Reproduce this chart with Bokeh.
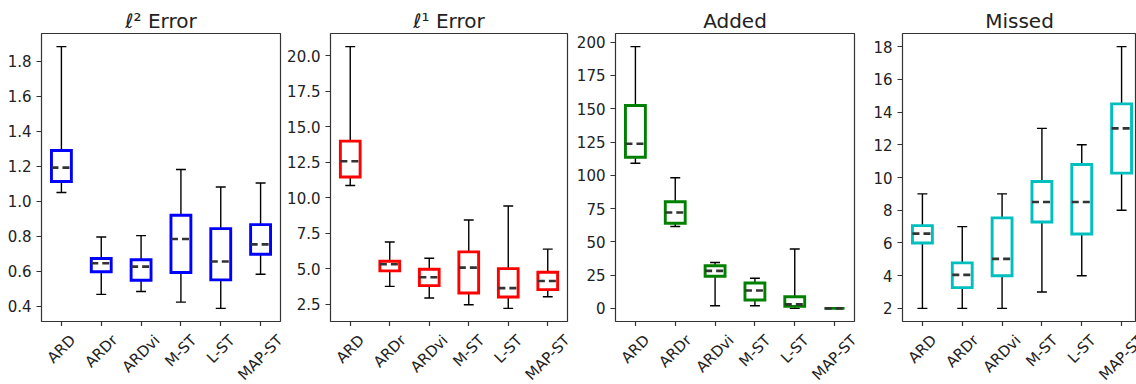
import numpy as np
from math import pi
from bokeh.plotting import figure
from bokeh.models import (Range1d, SingleIntervalTicker, FixedTicker, NumeralTickFormatter,
                          ColumnDataSource)
from bokeh.core.properties import value
from bokeh.layouts import row, column
from bokeh.embed import file_html
from bokeh.resources import INLINE

categories = ["ARD", "ARDr", "ARDvi", "M-ST", "L-ST", "MAP-ST"]

l2_lower = [1.050, 0.467, 0.484, 0.423, 0.387, 0.582]
l2_q1 = [1.113, 0.597, 0.548, 0.592, 0.550, 0.697]
l2_median = [1.192, 0.645, 0.626, 0.784, 0.655, 0.753]
l2_q3 = [1.290, 0.672, 0.665, 0.920, 0.843, 0.866]
l2_upper = [1.884, 0.795, 0.803, 1.181, 1.081, 1.104]

l1_lower = [10.87, 3.77, 2.95, 2.48, 2.22, 3.04]
l1_q1 = [11.46, 4.86, 3.82, 3.30, 3.02, 3.54]
l1_median = [12.57, 5.33, 4.41, 5.09, 3.65, 4.15]
l1_q3 = [13.99, 5.54, 4.97, 6.20, 5.02, 4.76]
l1_upper = [20.64, 6.89, 5.75, 8.44, 9.43, 6.39]

added_lower = [109.1, 61.5, 2.0, 2.0, 0.0, 0.0]
added_q1 = [113.6, 64.0, 24.2, 6.3, 1.5, 0.0]
added_median = [123.7, 72.0, 28.2, 13.4, 3.0, 0.0]
added_q3 = [152.4, 80.1, 32.0, 19.1, 8.8, 0.0]
added_upper = [196.7, 98.2, 34.5, 22.7, 44.6, 0.0]

missed_lower = [2, 2, 2, 3, 4, 8]
missed_q1 = [6.0, 3.27, 4.0, 7.28, 6.55, 10.27]
missed_median = [6.57, 4.05, 5.03, 8.5, 8.5, 13.0]
missed_q3 = [7.06, 4.78, 7.53, 9.76, 10.79, 14.5]
missed_upper = [9, 7, 9, 13, 12, 18]

FONT = "DejaVu Sans"
TICK_PX = 15
TEXT_COLOR = "#222222"
TOP_H = 326
LAB_H = 58

# DejaVu Sans advance widths (per 2048 em), used to centre the rotated labels
_ADV = {"A": 1401, "R": 1423, "D": 1577, "r": 842, "v": 1212, "i": 569, "M": 1767,
        "S": 1300, "T": 1251, "L": 1141, "P": 1235, "-": 739}


def text_len(s, size):
    return sum(_ADV.get(c, 1200) for c in s) / 2048.0 * size


def panel(title, lower, q1, med, q3, upper, color, interval, fmt,
          width, b_left, b_right, x_end):
    n = len(categories)
    pos = np.arange(1, n + 1)
    lo, hi = min(lower), max(upper)
    span = hi - lo
    xr = Range1d(0.5, x_end)
    p = figure(width=width, height=TOP_H, output_backend="svg", toolbar_location=None,
               x_range=xr, y_range=Range1d(lo - 0.05 * span, hi + 0.05 * span),
               min_border_left=b_left, min_border_right=b_right,
               min_border_top=33, min_border_bottom=5)
    p.title.text = title
    p.title.align = "center"
    p.title.text_font = FONT
    p.title.text_font_size = "20px"
    p.title.text_font_style = "normal"
    p.title.text_color = TEXT_COLOR
    p.title.standoff = 2
    p.grid.visible = False
    p.outline_line_color = "#333333"
    p.outline_line_width = 1.2

    p.xaxis.ticker = FixedTicker(ticks=list(pos))
    p.xaxis.major_label_text_font_size = "0px"
    p.xaxis.major_label_text_color = None
    p.xaxis.major_label_standoff = 0
    p.yaxis.ticker = SingleIntervalTicker(interval=interval, num_minor_ticks=0)
    p.yaxis.formatter = NumeralTickFormatter(format=fmt)
    for ax in (p.xaxis, p.yaxis):
        ax.axis_line_color = None
        ax.major_tick_line_color = "#333333"
        ax.major_tick_line_width = 1.2
        ax.major_tick_out = 5
        ax.major_tick_in = 0
        ax.minor_tick_line_color = None
    p.yaxis.major_label_text_font = FONT
    p.yaxis.major_label_text_font_size = f"{TICK_PX}px"
    p.yaxis.major_label_text_color = TEXT_COLOR
    p.yaxis.major_label_standoff = 5

    src = ColumnDataSource(dict(x=pos, lower=lower, q1=q1, med=med, q3=q3, upper=upper,
                                cl=pos - 0.125, cr=pos + 0.125,
                                bl=pos - 0.25, br=pos + 0.25))
    p.segment(x0="x", x1="x", y0="q3", y1="upper", source=src, line_color="black", line_width=1.4)
    p.segment(x0="x", x1="x", y0="q1", y1="lower", source=src, line_color="black", line_width=1.4)
    p.segment(x0="cl", x1="cr", y0="upper", y1="upper", source=src, line_color="black", line_width=1.4)
    p.segment(x0="cl", x1="cr", y0="lower", y1="lower", source=src, line_color="black", line_width=1.4)
    p.quad(left="bl", right="br", bottom="q1", top="q3", source=src, fill_color=None,
           line_color=color, line_width=2.9, line_join="miter")
    p.segment(x0="bl", x1="br", y0="med", y1="med", source=src, line_color="#333333",
              line_width=2.6, line_dash="7 4")

    # strip under the plot carrying the rotated category labels
    # (matplotlib style: rotation=45, ha='center'); its y units are pixels
    q = figure(width=width, height=LAB_H, output_backend="svg", toolbar_location=None,
               x_range=xr, y_range=Range1d(-LAB_H, 0),
               x_axis_type=None, y_axis_type=None,
               min_border_left=b_left, min_border_right=b_right,
               min_border_top=0, min_border_bottom=0)
    q.grid.visible = False
    q.outline_line_color = None
    h = 1.164 * TICK_PX
    offs = [-(5 + 0.3535 * (text_len(c, TICK_PX) + h)) for c in categories]
    lsrc = ColumnDataSource(dict(x=pos, y=offs, text=categories))
    q.text(x="x", y="y", text="text", source=lsrc, angle=pi / 4,
           text_align="center", text_baseline="middle",
           text_font=value(FONT), text_font_size=f"{TICK_PX}px", text_color=TEXT_COLOR)
    return column(p, q, spacing=0)


p1 = panel("ℓ² Error", l2_lower, l2_q1, l2_median, l2_q3, l2_upper, "#0000ff", 0.2, "0.0",
           284, 41, 4, 6.5)
p2 = panel("ℓ¹ Error", l1_lower, l1_q1, l1_median, l1_q3, l1_upper, "#ff0000", 2.5, "0.0",
           287, 44, 4, 6.5)
p3 = panel("Added", added_lower, added_q1, added_median, added_q3, added_upper, "#008000", 25, "0",
           287, 44, 4, 6.5)
p4 = panel("Missed", missed_lower, missed_q1, missed_median, missed_q3, missed_upper, "#00bfbf", 2, "0",
           278, 44, 0, 0.5 + 234 / (239 / 6))

layout = row(p1, p2, p3, p4, spacing=0)
open("out.html", "w").write(file_html(layout, INLINE))
